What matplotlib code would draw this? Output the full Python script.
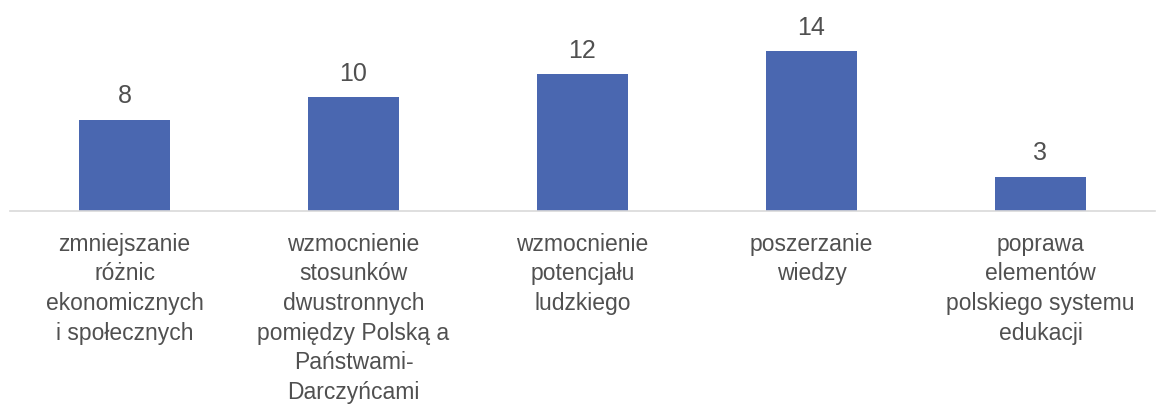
import matplotlib.pyplot as plt

plt.rcParams['font.family'] = ['Liberation Sans', 'DejaVu Sans']

categories = [
    "zmniejszanie\nróżnic\nekonomicznych\ni społecznych",
    "wzmocnienie\nstosunków\ndwustronnych\npomiędzy Polską a\nPaństwami-\nDarczyńcami",
    "wzmocnienie\npotencjału\nludzkiego",
    "poszerzanie\nwiedzy",
    "poprawa\nelementów\npolskiego systemu\nedukacji",
]
values = [8, 10, 12, 14, 3]

bar_color = "#4A67B0"
text_color = "#505050"

fig = plt.figure(figsize=(11.56, 4.10), dpi=100)
ax = fig.add_axes([10 / 1156, 1 - 212 / 410, 1145 / 1156, 212 / 410])

x = list(range(len(values)))
bars = ax.bar(x, values, width=0.4, color=bar_color)
ax.set_xlim(-0.5, len(values) - 0.5)
ax.set_ylim(0, 18.6)

for b, v in zip(bars, values):
    ax.annotate(str(v), (b.get_x() + b.get_width() / 2, v), xytext=(0, 9),
                textcoords="offset points", ha="center", va="bottom",
                fontsize=18, color=text_color)

ax.set_xticks(x)
ax.set_xticklabels(categories, fontsize=16.5, color=text_color, linespacing=1.37)
ax.tick_params(axis="x", length=0, pad=15)
ax.set_yticks([])
for s in ["top", "left", "right"]:
    ax.spines[s].set_visible(False)
ax.spines["bottom"].set_color("#D9D9D9")
ax.spines["bottom"].set_linewidth(1.2)

fig.savefig("out.png", dpi=100)
